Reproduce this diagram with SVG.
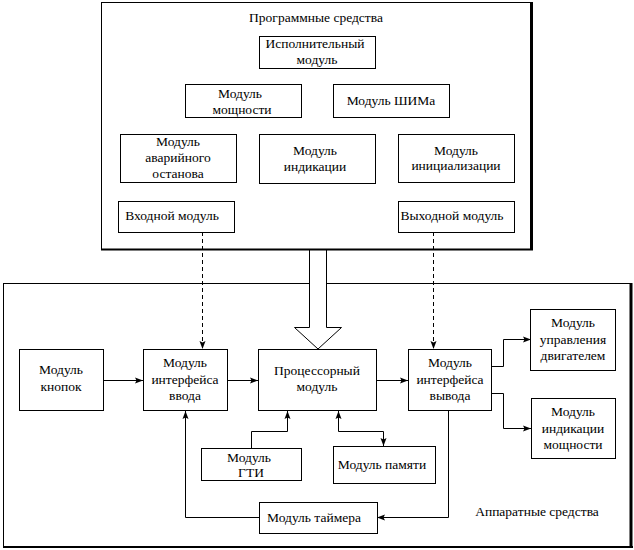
<svg xmlns="http://www.w3.org/2000/svg" width="634" height="550" viewBox="0 0 634 550">
<style>
.box{fill:#fff;stroke:#000;stroke-width:1}
.t{font-family:"Liberation Serif","Times New Roman",serif;font-size:13.5px;fill:#000;text-anchor:middle}
.ln{fill:none;stroke:#000;stroke-width:1}
.dash{fill:none;stroke:#000;stroke-width:1;stroke-dasharray:4,3}
</style>
<defs>
<marker id="ah" markerUnits="userSpaceOnUse" markerWidth="9" markerHeight="7" refX="8" refY="3.5" orient="auto">
<path d="M0,0.5 L8,3.5 L0,6.5 L1.5,3.5 z" fill="#000"/>
</marker>
<marker id="ahs" markerUnits="userSpaceOnUse" markerWidth="9" markerHeight="7" refX="8" refY="3.5" orient="auto-start-reverse">
<path d="M0,0.5 L8,3.5 L0,6.5 L1.5,3.5 z" fill="#000"/>
</marker>
</defs>
<rect width="634" height="550" fill="#fff"/>

<g id="frame-software">
<rect x="101.5" y="2.5" width="430" height="247" fill="#fff" stroke="#000" stroke-width="1"/>
<line x1="531.5" y1="2" x2="531.5" y2="250" stroke="#000" stroke-width="3"/>
<line x1="101" y1="249.5" x2="533" y2="249.5" stroke="#000" stroke-width="2"/>
<text class="t" x="316" y="22">Программные средства</text>
</g>

<g id="frame-hardware">
<rect x="3.5" y="283.5" width="627" height="263" fill="none" stroke="#000" stroke-width="1"/>
<line x1="631" y1="283" x2="631" y2="548" stroke="#000" stroke-width="3"/>
<line x1="3" y1="547" x2="633" y2="547" stroke="#000" stroke-width="2"/>
<text class="t" x="537" y="516">Аппаратные средства</text>
</g>

<g id="connectors">
<polygon points="309.5,250 326.5,250 326.5,327.5 341.5,327.5 318,349 294.5,327.5 309.5,327.5" fill="#fff" stroke="#000" stroke-width="1"/>
<path class="dash" d="M202.5,232 V349" marker-end="url(#ah)"/>
<path class="dash" d="M433.5,232 V349" marker-end="url(#ah)"/>
<path class="ln" d="M103,380.5 H143" marker-end="url(#ah)"/>
<path class="ln" d="M227,380.5 H258" marker-end="url(#ah)"/>
<path class="ln" d="M377,380.5 H408" marker-end="url(#ah)"/>
<path class="ln" d="M492,366.5 H503.5 V339.5 H531" marker-end="url(#ah)"/>
<path class="ln" d="M492,393.5 H503.5 V428.5 H531" marker-end="url(#ah)"/>
<path class="ln" d="M251.5,448 V431.5 H287.5 V411" marker-end="url(#ah)"/>
<path class="ln" d="M338.5,411 V431.5 H383.5 V446" marker-start="url(#ahs)" marker-end="url(#ah)"/>
<path class="ln" d="M448.5,411 V517.5 H377" marker-end="url(#ah)"/>
<path class="ln" d="M259,517.5 H185.5 V411" marker-end="url(#ah)"/>
</g>

<g id="n-ispolnitelny">
<rect class="box" x="259.5" y="36.5" width="116" height="32"/>
<text class="t" x="315" y="48">Исполнительный</text>
<text class="t" x="317" y="64">модуль</text>
</g>
<g id="n-moshnosti">
<rect class="box" x="185.5" y="84.5" width="116" height="33"/>
<text class="t" x="240" y="98">Модуль</text>
<text class="t" x="242" y="114">мощности</text>
</g>
<g id="n-shim">
<rect class="box" x="333.5" y="84.5" width="116" height="33"/>
<text class="t" x="391" y="105">Модуль ШИМа</text>
</g>
<g id="n-avariyny">
<rect class="box" x="120.5" y="134.5" width="116" height="48"/>
<text class="t" x="178" y="146">Модуль</text>
<text class="t" x="178" y="162">аварийного</text>
<text class="t" x="178" y="178">останова</text>
</g>
<g id="n-indikacii">
<rect class="box" x="259.5" y="134.5" width="116" height="49"/>
<text class="t" x="315" y="155">Модуль</text>
<text class="t" x="315" y="171">индикации</text>
</g>
<g id="n-inicializacii">
<rect class="box" x="398.5" y="134.5" width="116" height="48"/>
<text class="t" x="456" y="155">Модуль</text>
<text class="t" x="456" y="170">инициализации</text>
</g>
<g id="n-vhodnoy">
<rect class="box" x="118.5" y="201.5" width="116" height="31"/>
<text class="t" x="172" y="220">Входной модуль</text>
</g>
<g id="n-vyhodnoy">
<rect class="box" x="398.5" y="201.5" width="116" height="31"/>
<text class="t" x="452" y="220">Выходной модуль</text>
</g>

<g id="n-knopok">
<rect class="box" x="19.5" y="349.5" width="84" height="61"/>
<text class="t" x="61" y="374">Модуль</text>
<text class="t" x="61" y="391">кнопок</text>
</g>
<g id="n-vvoda">
<rect class="box" x="143.5" y="349.5" width="84" height="61"/>
<text class="t" x="185" y="367">Модуль</text>
<text class="t" x="185" y="384">интерфейса</text>
<text class="t" x="185" y="400">ввода</text>
</g>
<g id="n-processor">
<rect class="box" x="258.5" y="349.5" width="118" height="61"/>
<text class="t" x="317" y="375">Процессорный</text>
<text class="t" x="317" y="391">модуль</text>
</g>
<g id="n-vyvoda">
<rect class="box" x="408.5" y="349.5" width="83" height="61"/>
<text class="t" x="450" y="367">Модуль</text>
<text class="t" x="450" y="384">интерфейса</text>
<text class="t" x="450" y="400">вывода</text>
</g>
<g id="n-dvigatel">
<rect class="box" x="530.5" y="309.5" width="85" height="61"/>
<text class="t" x="573" y="327">Модуль</text>
<text class="t" x="573" y="344">управления</text>
<text class="t" x="573" y="360">двигателем</text>
</g>
<g id="n-ind-mosh">
<rect class="box" x="531.5" y="398.5" width="84" height="60"/>
<text class="t" x="573" y="416">Модуль</text>
<text class="t" x="573" y="433">индикации</text>
<text class="t" x="573" y="449">мощности</text>
</g>
<g id="n-gti">
<rect class="box" x="201.5" y="448.5" width="100" height="32"/>
<text class="t" x="249" y="462">Модуль</text>
<text class="t" x="251" y="477">ГТИ</text>
</g>
<g id="n-pamyati">
<rect class="box" x="333.5" y="446.5" width="102" height="37"/>
<text class="t" x="382" y="469">Модуль памяти</text>
</g>
<g id="n-taymera">
<rect class="box" x="259.5" y="502.5" width="118" height="31"/>
<text class="t" x="314" y="522">Модуль таймера</text>
</g>
</svg>
